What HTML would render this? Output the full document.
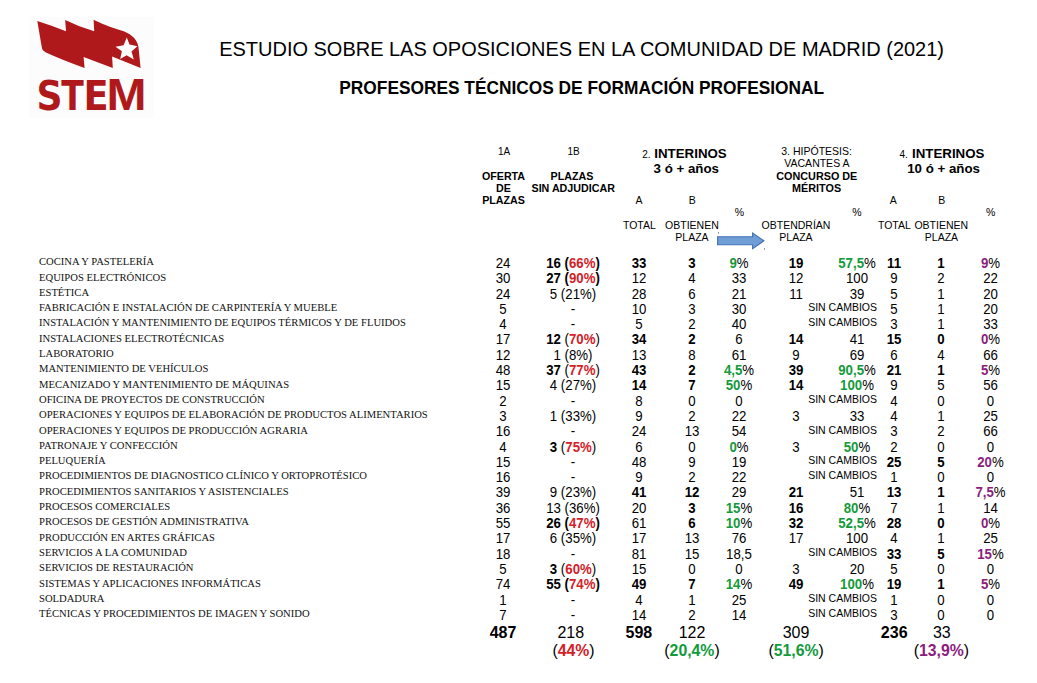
<!DOCTYPE html>
<html><head><meta charset="utf-8"><title>STEM - Profesores Técnicos de FP</title>
<style>
html,body{margin:0;padding:0;background:#fff;}
body{width:1037px;height:683px;overflow:hidden;}
svg{display:block;}
text{font-family:"Liberation Sans",Arial,sans-serif;}
.lab{font-family:"Liberation Serif","Times New Roman",serif;font-size:11px;fill:#111;}
.n{font-size:13.25px;}
.sc{font-size:10.5px;}
.logo text{font-family:"DejaVu Sans Condensed","DejaVu Sans",sans-serif;font-weight:bold;font-size:41.3px;font-stretch:condensed;}
.logo text.m{font-family:"Liberation Sans",sans-serif;font-size:43.75px;font-stretch:normal;}
</style></head>
<body>
<svg width="1037" height="683" viewBox="0 0 1037 683" fill="#000">
<rect width="1037" height="683" fill="#fff"/>

<rect x="29" y="17" width="125" height="101" fill="#fcfcfc"/>
<path fill="#b0191b" d="M37.3 21.1 Q50.5 25.3 66 31.2 L65.2 20 Q78.5 26.7 94.2 31.2 L93.6 19.8
 C100 23 110 27.2 120.5 30.2 C129.5 32.8 136.8 38 138.4 46.5 L140.6 68
 L112.1 56.4 L112.8 68 L83.6 56.9 L84.6 68 Q62 60 45.4 52.3 Q42 50.5 41.9 48 Z"/>
<path fill="#fff" d="M126.8 37.4 L129.5 44.6 L137.4 46.3 L131.5 51.4 L133.8 59.4 L126.6 55.2 L120.2 59.1 L121.9 51.3 L115.5 46.8 L123.6 45.2 Z"/>
<g class="logo" fill="#b0191b">
<text transform="translate(36.41 110) scale(0.973 1)">S</text>
<text transform="translate(61.14 110) scale(0.889 1)">T</text>
<text transform="translate(83.62 110) scale(0.992 1)">E</text>
<text class="m" transform="translate(106.39 110) scale(1.098 1)">M</text>
</g>


<text x="219.2" y="55.9" font-size="20.6" textLength="724.8" lengthAdjust="spacingAndGlyphs">ESTUDIO SOBRE LAS OPOSICIONES EN LA COMUNIDAD DE MADRID (2021)</text>
<text x="339.3" y="93.9" font-size="18" font-weight="bold" textLength="484.8" lengthAdjust="spacingAndGlyphs">PROFESORES TÉCNICOS DE FORMACIÓN PROFESIONAL</text>

<g font-size="10" text-anchor="middle">
<text x="504" y="154.9">1A</text>
<text x="573.5" y="154.9">1B</text>
<g font-weight="bold" font-size="10.7">
<text x="503.5" y="179.8">OFERTA</text>
<text x="503.5" y="191.8">DE</text>
<text x="503.5" y="203.6">PLAZAS</text>
<text x="571.9" y="179.8">PLAZAS</text>
<text x="573.2" y="191.8">SIN ADJUDICAR</text>
</g>
</g>
<text x="642.2" y="157.8" font-size="10">2.<tspan x="654.3" font-size="13.3" font-weight="bold">INTERINOS</tspan></text>
<text x="686.3" y="172.5" font-size="13.3" font-weight="bold" text-anchor="middle">3 ó + años</text>
<text x="899.4" y="157.8" font-size="10">4.<tspan x="912" font-size="13.3" font-weight="bold">INTERINOS</tspan></text>
<text x="943.6" y="172.5" font-size="13.3" font-weight="bold" text-anchor="middle">10 ó + años</text>

<g font-size="10.5" text-anchor="middle">
<text x="816.6" y="154.8">3. HIPÓTESIS:</text>
<text x="816.9" y="166.8">VACANTES A</text>
<text x="816.8" y="179.9" font-weight="bold" font-size="10.8">CONCURSO DE</text>
<text x="816.6" y="192" font-weight="bold" font-size="10.8">MÉRITOS</text>
<text x="638.9" y="203.6">A</text>
<text x="692.2" y="203.6">B</text>
<text x="893.3" y="203.6">A</text>
<text x="941.8" y="203.6">B</text>
<text x="739.3" y="215.6">%</text>
<text x="856.8" y="215.6">%</text>
<text x="990.7" y="215.6">%</text>
<text x="639.4" y="228.9">TOTAL</text>
<text x="691.9" y="228.9">OBTIENEN</text>
<text x="692" y="240.5">PLAZA</text>
<text x="796" y="228.6">OBTENDRÍAN</text>
<text x="796" y="240.5">PLAZA</text>
<text x="894.4" y="228.6">TOTAL</text>
<text x="941.3" y="228.6">OBTIENEN</text>
<text x="941.5" y="240.5">PLAZA</text>
</g>

<path d="M717.6 236.7 H752.6 V233.1 L763.9 240.8 L752.6 248.6 V244.8 H717.6 Z" fill="#6f9ed5" stroke="#4371b6" stroke-width="1.1" stroke-linejoin="miter"/>
<rect x="718" y="232" width="0.9" height="1.6" fill="#5a7fb5"/>
<rect x="764" y="248.2" width="0.9" height="1.6" fill="#5a7fb5"/>
<text class="lab" transform="translate(39 265.20) scale(0.9665 1)">COCINA Y PASTELERÍA</text>
<text class="lab" transform="translate(39 280.50) scale(0.9665 1)">EQUIPOS ELECTRÓNICOS</text>
<text class="lab" transform="translate(39 295.80) scale(0.9665 1)">ESTÉTICA</text>
<text class="lab" transform="translate(39 311.10) scale(0.9665 1)">FABRICACIÓN E INSTALACIÓN DE CARPINTERÍA Y MUEBLE</text>
<text class="lab" transform="translate(39 326.40) scale(0.9665 1)">INSTALACIÓN Y MANTENIMIENTO DE EQUIPOS TÉRMICOS Y DE FLUIDOS</text>
<text class="lab" transform="translate(39 341.70) scale(0.9665 1)">INSTALACIONES ELECTROTÉCNICAS</text>
<text class="lab" transform="translate(39 357.00) scale(0.9665 1)">LABORATORIO</text>
<text class="lab" transform="translate(39 372.30) scale(0.9665 1)">MANTENIMIENTO DE VEHÍCULOS</text>
<text class="lab" transform="translate(39 387.60) scale(0.9665 1)">MECANIZADO Y MANTENIMIENTO DE MÁQUINAS</text>
<text class="lab" transform="translate(39 402.90) scale(0.9665 1)">OFICINA DE PROYECTOS DE CONSTRUCCIÓN</text>
<text class="lab" transform="translate(39 418.20) scale(0.9665 1)">OPERACIONES Y EQUIPOS DE ELABORACIÓN DE PRODUCTOS ALIMENTARIOS</text>
<text class="lab" transform="translate(39 433.50) scale(0.9665 1)">OPERACIONES Y EQUIPOS DE PRODUCCIÓN AGRARIA</text>
<text class="lab" transform="translate(39 448.80) scale(0.9665 1)">PATRONAJE Y CONFECCIÓN</text>
<text class="lab" transform="translate(39 464.10) scale(0.9665 1)">PELUQUERÍA</text>
<text class="lab" transform="translate(39 479.40) scale(0.9665 1)">PROCEDIMIENTOS DE DIAGNOSTICO CLÍNICO Y ORTOPROTÉSICO</text>
<text class="lab" transform="translate(39 494.70) scale(0.9665 1)">PROCEDIMIENTOS SANITARIOS Y ASISTENCIALES</text>
<text class="lab" transform="translate(39 510.00) scale(0.9665 1)">PROCESOS COMERCIALES</text>
<text class="lab" transform="translate(39 525.30) scale(0.9665 1)">PROCESOS DE GESTIÓN ADMINISTRATIVA</text>
<text class="lab" transform="translate(39 540.60) scale(0.9665 1)">PRODUCCIÓN EN ARTES GRÁFICAS</text>
<text class="lab" transform="translate(39 555.90) scale(0.9665 1)">SERVICIOS A LA COMUNIDAD</text>
<text class="lab" transform="translate(39 571.20) scale(0.9665 1)">SERVICIOS DE RESTAURACIÓN</text>
<text class="lab" transform="translate(39 586.50) scale(0.9665 1)">SISTEMAS Y APLICACIONES INFORMÁTICAS</text>
<text class="lab" transform="translate(39 601.80) scale(0.9665 1)">SOLDADURA</text>
<text class="lab" transform="translate(39 617.10) scale(0.9665 1)">TÉCNICAS Y PROCEDIMIENTOS DE IMAGEN Y SONIDO</text>
<text class="n" transform="translate(503 267.90) scale(1 1.065)" text-anchor="middle">24</text>
<text class="n" transform="translate(573 267.90) scale(1 1.065)" text-anchor="middle"><tspan font-weight="bold">16 (</tspan><tspan font-weight="bold" fill="#d42128">66%</tspan><tspan font-weight="bold">)</tspan></text>
<text class="n" transform="translate(639 267.90) scale(1 1.065)" text-anchor="middle" font-weight="bold">33</text>
<text class="n" transform="translate(692 267.90) scale(1 1.065)" text-anchor="middle" font-weight="bold">3</text>
<text class="n" transform="translate(739 267.90) scale(1 1.065)" text-anchor="middle"><tspan font-weight="bold" fill="#129a3b">9</tspan><tspan>%</tspan></text>
<text class="n" transform="translate(796 267.90) scale(1 1.065)" text-anchor="middle" font-weight="bold">19</text>
<text class="n" transform="translate(857 267.90) scale(1 1.065)" text-anchor="middle"><tspan font-weight="bold" fill="#129a3b">57,5</tspan><tspan>%</tspan></text>
<text class="n" transform="translate(894 267.90) scale(1 1.065)" text-anchor="middle" font-weight="bold">11</text>
<text class="n" transform="translate(941 267.90) scale(1 1.065)" text-anchor="middle" font-weight="bold">1</text>
<text class="n" transform="translate(990.5 267.90) scale(1 1.065)" text-anchor="middle"><tspan font-weight="bold" fill="#8c1c7e">9</tspan><tspan>%</tspan></text>
<text class="n" transform="translate(503 283.20) scale(1 1.065)" text-anchor="middle">30</text>
<text class="n" transform="translate(573 283.20) scale(1 1.065)" text-anchor="middle"><tspan font-weight="bold">27 (</tspan><tspan font-weight="bold" fill="#d42128">90%</tspan><tspan font-weight="bold">)</tspan></text>
<text class="n" transform="translate(639 283.20) scale(1 1.065)" text-anchor="middle">12</text>
<text class="n" transform="translate(692 283.20) scale(1 1.065)" text-anchor="middle">4</text>
<text class="n" transform="translate(739 283.20) scale(1 1.065)" text-anchor="middle">33</text>
<text class="n" transform="translate(796 283.20) scale(1 1.065)" text-anchor="middle">12</text>
<text class="n" transform="translate(857 283.20) scale(1 1.065)" text-anchor="middle">100</text>
<text class="n" transform="translate(894 283.20) scale(1 1.065)" text-anchor="middle">9</text>
<text class="n" transform="translate(941 283.20) scale(1 1.065)" text-anchor="middle">2</text>
<text class="n" transform="translate(990.5 283.20) scale(1 1.065)" text-anchor="middle">22</text>
<text class="n" transform="translate(503 298.50) scale(1 1.065)" text-anchor="middle">24</text>
<text class="n" transform="translate(573 298.50) scale(1 1.065)" text-anchor="middle">5 (21%)</text>
<text class="n" transform="translate(639 298.50) scale(1 1.065)" text-anchor="middle">28</text>
<text class="n" transform="translate(692 298.50) scale(1 1.065)" text-anchor="middle">6</text>
<text class="n" transform="translate(739 298.50) scale(1 1.065)" text-anchor="middle">21</text>
<text class="n" transform="translate(796 298.50) scale(1 1.065)" text-anchor="middle">11</text>
<text class="n" transform="translate(857 298.50) scale(1 1.065)" text-anchor="middle">39</text>
<text class="n" transform="translate(894 298.50) scale(1 1.065)" text-anchor="middle">5</text>
<text class="n" transform="translate(941 298.50) scale(1 1.065)" text-anchor="middle">1</text>
<text class="n" transform="translate(990.5 298.50) scale(1 1.065)" text-anchor="middle">20</text>
<text class="n" transform="translate(503 313.80) scale(1 1.065)" text-anchor="middle">5</text>
<text class="n" transform="translate(573 313.80) scale(1 1.065)" text-anchor="middle">-</text>
<text class="n" transform="translate(639 313.80) scale(1 1.065)" text-anchor="middle">10</text>
<text class="n" transform="translate(692 313.80) scale(1 1.065)" text-anchor="middle">3</text>
<text class="n" transform="translate(739 313.80) scale(1 1.065)" text-anchor="middle">30</text>
<text class="sc" x="877" y="311.10" text-anchor="end">SIN CAMBIOS</text>
<text class="n" transform="translate(894 313.80) scale(1 1.065)" text-anchor="middle">5</text>
<text class="n" transform="translate(941 313.80) scale(1 1.065)" text-anchor="middle">1</text>
<text class="n" transform="translate(990.5 313.80) scale(1 1.065)" text-anchor="middle">20</text>
<text class="n" transform="translate(503 329.10) scale(1 1.065)" text-anchor="middle">4</text>
<text class="n" transform="translate(573 329.10) scale(1 1.065)" text-anchor="middle">-</text>
<text class="n" transform="translate(639 329.10) scale(1 1.065)" text-anchor="middle">5</text>
<text class="n" transform="translate(692 329.10) scale(1 1.065)" text-anchor="middle">2</text>
<text class="n" transform="translate(739 329.10) scale(1 1.065)" text-anchor="middle">40</text>
<text class="sc" x="877" y="326.40" text-anchor="end">SIN CAMBIOS</text>
<text class="n" transform="translate(894 329.10) scale(1 1.065)" text-anchor="middle">3</text>
<text class="n" transform="translate(941 329.10) scale(1 1.065)" text-anchor="middle">1</text>
<text class="n" transform="translate(990.5 329.10) scale(1 1.065)" text-anchor="middle">33</text>
<text class="n" transform="translate(503 344.40) scale(1 1.065)" text-anchor="middle">17</text>
<text class="n" transform="translate(573 344.40) scale(1 1.065)" text-anchor="middle"><tspan font-weight="bold">12</tspan><tspan> (</tspan><tspan font-weight="bold" fill="#d42128">70%</tspan><tspan>)</tspan></text>
<text class="n" transform="translate(639 344.40) scale(1 1.065)" text-anchor="middle" font-weight="bold">34</text>
<text class="n" transform="translate(692 344.40) scale(1 1.065)" text-anchor="middle" font-weight="bold">2</text>
<text class="n" transform="translate(739 344.40) scale(1 1.065)" text-anchor="middle">6</text>
<text class="n" transform="translate(796 344.40) scale(1 1.065)" text-anchor="middle" font-weight="bold">14</text>
<text class="n" transform="translate(857 344.40) scale(1 1.065)" text-anchor="middle">41</text>
<text class="n" transform="translate(894 344.40) scale(1 1.065)" text-anchor="middle" font-weight="bold">15</text>
<text class="n" transform="translate(941 344.40) scale(1 1.065)" text-anchor="middle" font-weight="bold">0</text>
<text class="n" transform="translate(990.5 344.40) scale(1 1.065)" text-anchor="middle"><tspan font-weight="bold" fill="#8c1c7e">0</tspan><tspan>%</tspan></text>
<text class="n" transform="translate(503 359.70) scale(1 1.065)" text-anchor="middle">12</text>
<text class="n" transform="translate(573 359.70) scale(1 1.065)" text-anchor="middle">1 (8%)</text>
<text class="n" transform="translate(639 359.70) scale(1 1.065)" text-anchor="middle">13</text>
<text class="n" transform="translate(692 359.70) scale(1 1.065)" text-anchor="middle">8</text>
<text class="n" transform="translate(739 359.70) scale(1 1.065)" text-anchor="middle">61</text>
<text class="n" transform="translate(796 359.70) scale(1 1.065)" text-anchor="middle">9</text>
<text class="n" transform="translate(857 359.70) scale(1 1.065)" text-anchor="middle">69</text>
<text class="n" transform="translate(894 359.70) scale(1 1.065)" text-anchor="middle">6</text>
<text class="n" transform="translate(941 359.70) scale(1 1.065)" text-anchor="middle">4</text>
<text class="n" transform="translate(990.5 359.70) scale(1 1.065)" text-anchor="middle">66</text>
<text class="n" transform="translate(503 375.00) scale(1 1.065)" text-anchor="middle">48</text>
<text class="n" transform="translate(573 375.00) scale(1 1.065)" text-anchor="middle"><tspan font-weight="bold">37</tspan><tspan> (</tspan><tspan font-weight="bold" fill="#d42128">77%</tspan><tspan>)</tspan></text>
<text class="n" transform="translate(639 375.00) scale(1 1.065)" text-anchor="middle" font-weight="bold">43</text>
<text class="n" transform="translate(692 375.00) scale(1 1.065)" text-anchor="middle" font-weight="bold">2</text>
<text class="n" transform="translate(739 375.00) scale(1 1.065)" text-anchor="middle"><tspan font-weight="bold" fill="#129a3b">4,5</tspan><tspan>%</tspan></text>
<text class="n" transform="translate(796 375.00) scale(1 1.065)" text-anchor="middle" font-weight="bold">39</text>
<text class="n" transform="translate(857 375.00) scale(1 1.065)" text-anchor="middle"><tspan font-weight="bold" fill="#129a3b">90,5</tspan><tspan>%</tspan></text>
<text class="n" transform="translate(894 375.00) scale(1 1.065)" text-anchor="middle" font-weight="bold">21</text>
<text class="n" transform="translate(941 375.00) scale(1 1.065)" text-anchor="middle" font-weight="bold">1</text>
<text class="n" transform="translate(990.5 375.00) scale(1 1.065)" text-anchor="middle"><tspan font-weight="bold" fill="#8c1c7e">5</tspan><tspan>%</tspan></text>
<text class="n" transform="translate(503 390.30) scale(1 1.065)" text-anchor="middle">15</text>
<text class="n" transform="translate(573 390.30) scale(1 1.065)" text-anchor="middle">4 (27%)</text>
<text class="n" transform="translate(639 390.30) scale(1 1.065)" text-anchor="middle" font-weight="bold">14</text>
<text class="n" transform="translate(692 390.30) scale(1 1.065)" text-anchor="middle" font-weight="bold">7</text>
<text class="n" transform="translate(739 390.30) scale(1 1.065)" text-anchor="middle"><tspan font-weight="bold" fill="#129a3b">50</tspan><tspan>%</tspan></text>
<text class="n" transform="translate(796 390.30) scale(1 1.065)" text-anchor="middle" font-weight="bold">14</text>
<text class="n" transform="translate(857 390.30) scale(1 1.065)" text-anchor="middle"><tspan font-weight="bold" fill="#129a3b">100</tspan><tspan>%</tspan></text>
<text class="n" transform="translate(894 390.30) scale(1 1.065)" text-anchor="middle">9</text>
<text class="n" transform="translate(941 390.30) scale(1 1.065)" text-anchor="middle">5</text>
<text class="n" transform="translate(990.5 390.30) scale(1 1.065)" text-anchor="middle">56</text>
<text class="n" transform="translate(503 405.60) scale(1 1.065)" text-anchor="middle">2</text>
<text class="n" transform="translate(573 405.60) scale(1 1.065)" text-anchor="middle">-</text>
<text class="n" transform="translate(639 405.60) scale(1 1.065)" text-anchor="middle">8</text>
<text class="n" transform="translate(692 405.60) scale(1 1.065)" text-anchor="middle">0</text>
<text class="n" transform="translate(739 405.60) scale(1 1.065)" text-anchor="middle">0</text>
<text class="sc" x="877" y="402.90" text-anchor="end">SIN CAMBIOS</text>
<text class="n" transform="translate(894 405.60) scale(1 1.065)" text-anchor="middle">4</text>
<text class="n" transform="translate(941 405.60) scale(1 1.065)" text-anchor="middle">0</text>
<text class="n" transform="translate(990.5 405.60) scale(1 1.065)" text-anchor="middle">0</text>
<text class="n" transform="translate(503 420.90) scale(1 1.065)" text-anchor="middle">3</text>
<text class="n" transform="translate(573 420.90) scale(1 1.065)" text-anchor="middle">1 (33%)</text>
<text class="n" transform="translate(639 420.90) scale(1 1.065)" text-anchor="middle">9</text>
<text class="n" transform="translate(692 420.90) scale(1 1.065)" text-anchor="middle">2</text>
<text class="n" transform="translate(739 420.90) scale(1 1.065)" text-anchor="middle">22</text>
<text class="n" transform="translate(796 420.90) scale(1 1.065)" text-anchor="middle">3</text>
<text class="n" transform="translate(857 420.90) scale(1 1.065)" text-anchor="middle">33</text>
<text class="n" transform="translate(894 420.90) scale(1 1.065)" text-anchor="middle">4</text>
<text class="n" transform="translate(941 420.90) scale(1 1.065)" text-anchor="middle">1</text>
<text class="n" transform="translate(990.5 420.90) scale(1 1.065)" text-anchor="middle">25</text>
<text class="n" transform="translate(503 436.20) scale(1 1.065)" text-anchor="middle">16</text>
<text class="n" transform="translate(573 436.20) scale(1 1.065)" text-anchor="middle">-</text>
<text class="n" transform="translate(639 436.20) scale(1 1.065)" text-anchor="middle">24</text>
<text class="n" transform="translate(692 436.20) scale(1 1.065)" text-anchor="middle">13</text>
<text class="n" transform="translate(739 436.20) scale(1 1.065)" text-anchor="middle">54</text>
<text class="sc" x="877" y="433.50" text-anchor="end">SIN CAMBIOS</text>
<text class="n" transform="translate(894 436.20) scale(1 1.065)" text-anchor="middle">3</text>
<text class="n" transform="translate(941 436.20) scale(1 1.065)" text-anchor="middle">2</text>
<text class="n" transform="translate(990.5 436.20) scale(1 1.065)" text-anchor="middle">66</text>
<text class="n" transform="translate(503 451.50) scale(1 1.065)" text-anchor="middle">4</text>
<text class="n" transform="translate(573 451.50) scale(1 1.065)" text-anchor="middle"><tspan font-weight="bold">3</tspan><tspan> (</tspan><tspan font-weight="bold" fill="#d42128">75%</tspan><tspan>)</tspan></text>
<text class="n" transform="translate(639 451.50) scale(1 1.065)" text-anchor="middle">6</text>
<text class="n" transform="translate(692 451.50) scale(1 1.065)" text-anchor="middle">0</text>
<text class="n" transform="translate(739 451.50) scale(1 1.065)" text-anchor="middle"><tspan font-weight="bold" fill="#129a3b">0</tspan><tspan>%</tspan></text>
<text class="n" transform="translate(796 451.50) scale(1 1.065)" text-anchor="middle">3</text>
<text class="n" transform="translate(857 451.50) scale(1 1.065)" text-anchor="middle"><tspan font-weight="bold" fill="#129a3b">50</tspan><tspan>%</tspan></text>
<text class="n" transform="translate(894 451.50) scale(1 1.065)" text-anchor="middle">2</text>
<text class="n" transform="translate(941 451.50) scale(1 1.065)" text-anchor="middle">0</text>
<text class="n" transform="translate(990.5 451.50) scale(1 1.065)" text-anchor="middle">0</text>
<text class="n" transform="translate(503 466.80) scale(1 1.065)" text-anchor="middle">15</text>
<text class="n" transform="translate(573 466.80) scale(1 1.065)" text-anchor="middle">-</text>
<text class="n" transform="translate(639 466.80) scale(1 1.065)" text-anchor="middle">48</text>
<text class="n" transform="translate(692 466.80) scale(1 1.065)" text-anchor="middle">9</text>
<text class="n" transform="translate(739 466.80) scale(1 1.065)" text-anchor="middle">19</text>
<text class="sc" x="877" y="464.10" text-anchor="end">SIN CAMBIOS</text>
<text class="n" transform="translate(894 466.80) scale(1 1.065)" text-anchor="middle" font-weight="bold">25</text>
<text class="n" transform="translate(941 466.80) scale(1 1.065)" text-anchor="middle" font-weight="bold">5</text>
<text class="n" transform="translate(990.5 466.80) scale(1 1.065)" text-anchor="middle"><tspan font-weight="bold" fill="#8c1c7e">20</tspan><tspan>%</tspan></text>
<text class="n" transform="translate(503 482.10) scale(1 1.065)" text-anchor="middle">16</text>
<text class="n" transform="translate(573 482.10) scale(1 1.065)" text-anchor="middle">-</text>
<text class="n" transform="translate(639 482.10) scale(1 1.065)" text-anchor="middle">9</text>
<text class="n" transform="translate(692 482.10) scale(1 1.065)" text-anchor="middle">2</text>
<text class="n" transform="translate(739 482.10) scale(1 1.065)" text-anchor="middle">22</text>
<text class="sc" x="877" y="479.40" text-anchor="end">SIN CAMBIOS</text>
<text class="n" transform="translate(894 482.10) scale(1 1.065)" text-anchor="middle">1</text>
<text class="n" transform="translate(941 482.10) scale(1 1.065)" text-anchor="middle">0</text>
<text class="n" transform="translate(990.5 482.10) scale(1 1.065)" text-anchor="middle">0</text>
<text class="n" transform="translate(503 497.40) scale(1 1.065)" text-anchor="middle">39</text>
<text class="n" transform="translate(573 497.40) scale(1 1.065)" text-anchor="middle">9 (23%)</text>
<text class="n" transform="translate(639 497.40) scale(1 1.065)" text-anchor="middle" font-weight="bold">41</text>
<text class="n" transform="translate(692 497.40) scale(1 1.065)" text-anchor="middle" font-weight="bold">12</text>
<text class="n" transform="translate(739 497.40) scale(1 1.065)" text-anchor="middle">29</text>
<text class="n" transform="translate(796 497.40) scale(1 1.065)" text-anchor="middle" font-weight="bold">21</text>
<text class="n" transform="translate(857 497.40) scale(1 1.065)" text-anchor="middle">51</text>
<text class="n" transform="translate(894 497.40) scale(1 1.065)" text-anchor="middle" font-weight="bold">13</text>
<text class="n" transform="translate(941 497.40) scale(1 1.065)" text-anchor="middle" font-weight="bold">1</text>
<text class="n" transform="translate(990.5 497.40) scale(1 1.065)" text-anchor="middle"><tspan font-weight="bold" fill="#8c1c7e">7,5</tspan><tspan>%</tspan></text>
<text class="n" transform="translate(503 512.70) scale(1 1.065)" text-anchor="middle">36</text>
<text class="n" transform="translate(573 512.70) scale(1 1.065)" text-anchor="middle">13 (36%)</text>
<text class="n" transform="translate(639 512.70) scale(1 1.065)" text-anchor="middle">20</text>
<text class="n" transform="translate(692 512.70) scale(1 1.065)" text-anchor="middle" font-weight="bold">3</text>
<text class="n" transform="translate(739 512.70) scale(1 1.065)" text-anchor="middle"><tspan font-weight="bold" fill="#129a3b">15</tspan><tspan>%</tspan></text>
<text class="n" transform="translate(796 512.70) scale(1 1.065)" text-anchor="middle" font-weight="bold">16</text>
<text class="n" transform="translate(857 512.70) scale(1 1.065)" text-anchor="middle"><tspan font-weight="bold" fill="#129a3b">80</tspan><tspan>%</tspan></text>
<text class="n" transform="translate(894 512.70) scale(1 1.065)" text-anchor="middle">7</text>
<text class="n" transform="translate(941 512.70) scale(1 1.065)" text-anchor="middle">1</text>
<text class="n" transform="translate(990.5 512.70) scale(1 1.065)" text-anchor="middle">14</text>
<text class="n" transform="translate(503 528.00) scale(1 1.065)" text-anchor="middle">55</text>
<text class="n" transform="translate(573 528.00) scale(1 1.065)" text-anchor="middle"><tspan font-weight="bold">26 (</tspan><tspan font-weight="bold" fill="#d42128">47%</tspan><tspan font-weight="bold">)</tspan></text>
<text class="n" transform="translate(639 528.00) scale(1 1.065)" text-anchor="middle">61</text>
<text class="n" transform="translate(692 528.00) scale(1 1.065)" text-anchor="middle" font-weight="bold">6</text>
<text class="n" transform="translate(739 528.00) scale(1 1.065)" text-anchor="middle"><tspan font-weight="bold" fill="#129a3b">10</tspan><tspan>%</tspan></text>
<text class="n" transform="translate(796 528.00) scale(1 1.065)" text-anchor="middle" font-weight="bold">32</text>
<text class="n" transform="translate(857 528.00) scale(1 1.065)" text-anchor="middle"><tspan font-weight="bold" fill="#129a3b">52,5</tspan><tspan>%</tspan></text>
<text class="n" transform="translate(894 528.00) scale(1 1.065)" text-anchor="middle" font-weight="bold">28</text>
<text class="n" transform="translate(941 528.00) scale(1 1.065)" text-anchor="middle" font-weight="bold">0</text>
<text class="n" transform="translate(990.5 528.00) scale(1 1.065)" text-anchor="middle"><tspan font-weight="bold" fill="#8c1c7e">0</tspan><tspan>%</tspan></text>
<text class="n" transform="translate(503 543.30) scale(1 1.065)" text-anchor="middle">17</text>
<text class="n" transform="translate(573 543.30) scale(1 1.065)" text-anchor="middle">6 (35%)</text>
<text class="n" transform="translate(639 543.30) scale(1 1.065)" text-anchor="middle">17</text>
<text class="n" transform="translate(692 543.30) scale(1 1.065)" text-anchor="middle">13</text>
<text class="n" transform="translate(739 543.30) scale(1 1.065)" text-anchor="middle">76</text>
<text class="n" transform="translate(796 543.30) scale(1 1.065)" text-anchor="middle">17</text>
<text class="n" transform="translate(857 543.30) scale(1 1.065)" text-anchor="middle">100</text>
<text class="n" transform="translate(894 543.30) scale(1 1.065)" text-anchor="middle">4</text>
<text class="n" transform="translate(941 543.30) scale(1 1.065)" text-anchor="middle">1</text>
<text class="n" transform="translate(990.5 543.30) scale(1 1.065)" text-anchor="middle">25</text>
<text class="n" transform="translate(503 558.60) scale(1 1.065)" text-anchor="middle">18</text>
<text class="n" transform="translate(573 558.60) scale(1 1.065)" text-anchor="middle">-</text>
<text class="n" transform="translate(639 558.60) scale(1 1.065)" text-anchor="middle">81</text>
<text class="n" transform="translate(692 558.60) scale(1 1.065)" text-anchor="middle">15</text>
<text class="n" transform="translate(739 558.60) scale(1 1.065)" text-anchor="middle">18,5</text>
<text class="sc" x="877" y="555.90" text-anchor="end">SIN CAMBIOS</text>
<text class="n" transform="translate(894 558.60) scale(1 1.065)" text-anchor="middle" font-weight="bold">33</text>
<text class="n" transform="translate(941 558.60) scale(1 1.065)" text-anchor="middle" font-weight="bold">5</text>
<text class="n" transform="translate(990.5 558.60) scale(1 1.065)" text-anchor="middle"><tspan font-weight="bold" fill="#8c1c7e">15</tspan><tspan>%</tspan></text>
<text class="n" transform="translate(503 573.90) scale(1 1.065)" text-anchor="middle">5</text>
<text class="n" transform="translate(573 573.90) scale(1 1.065)" text-anchor="middle"><tspan font-weight="bold">3</tspan><tspan> (</tspan><tspan font-weight="bold" fill="#d42128">60%</tspan><tspan>)</tspan></text>
<text class="n" transform="translate(639 573.90) scale(1 1.065)" text-anchor="middle">15</text>
<text class="n" transform="translate(692 573.90) scale(1 1.065)" text-anchor="middle">0</text>
<text class="n" transform="translate(739 573.90) scale(1 1.065)" text-anchor="middle">0</text>
<text class="n" transform="translate(796 573.90) scale(1 1.065)" text-anchor="middle">3</text>
<text class="n" transform="translate(857 573.90) scale(1 1.065)" text-anchor="middle">20</text>
<text class="n" transform="translate(894 573.90) scale(1 1.065)" text-anchor="middle">5</text>
<text class="n" transform="translate(941 573.90) scale(1 1.065)" text-anchor="middle">0</text>
<text class="n" transform="translate(990.5 573.90) scale(1 1.065)" text-anchor="middle">0</text>
<text class="n" transform="translate(503 589.20) scale(1 1.065)" text-anchor="middle">74</text>
<text class="n" transform="translate(573 589.20) scale(1 1.065)" text-anchor="middle"><tspan font-weight="bold">55 (</tspan><tspan font-weight="bold" fill="#d42128">74%</tspan><tspan font-weight="bold">)</tspan></text>
<text class="n" transform="translate(639 589.20) scale(1 1.065)" text-anchor="middle" font-weight="bold">49</text>
<text class="n" transform="translate(692 589.20) scale(1 1.065)" text-anchor="middle" font-weight="bold">7</text>
<text class="n" transform="translate(739 589.20) scale(1 1.065)" text-anchor="middle"><tspan font-weight="bold" fill="#129a3b">14</tspan><tspan>%</tspan></text>
<text class="n" transform="translate(796 589.20) scale(1 1.065)" text-anchor="middle" font-weight="bold">49</text>
<text class="n" transform="translate(857 589.20) scale(1 1.065)" text-anchor="middle"><tspan font-weight="bold" fill="#129a3b">100</tspan><tspan>%</tspan></text>
<text class="n" transform="translate(894 589.20) scale(1 1.065)" text-anchor="middle" font-weight="bold">19</text>
<text class="n" transform="translate(941 589.20) scale(1 1.065)" text-anchor="middle" font-weight="bold">1</text>
<text class="n" transform="translate(990.5 589.20) scale(1 1.065)" text-anchor="middle"><tspan font-weight="bold" fill="#8c1c7e">5</tspan><tspan>%</tspan></text>
<text class="n" transform="translate(503 604.50) scale(1 1.065)" text-anchor="middle">1</text>
<text class="n" transform="translate(573 604.50) scale(1 1.065)" text-anchor="middle">-</text>
<text class="n" transform="translate(639 604.50) scale(1 1.065)" text-anchor="middle">4</text>
<text class="n" transform="translate(692 604.50) scale(1 1.065)" text-anchor="middle">1</text>
<text class="n" transform="translate(739 604.50) scale(1 1.065)" text-anchor="middle">25</text>
<text class="sc" x="877" y="601.80" text-anchor="end">SIN CAMBIOS</text>
<text class="n" transform="translate(894 604.50) scale(1 1.065)" text-anchor="middle">1</text>
<text class="n" transform="translate(941 604.50) scale(1 1.065)" text-anchor="middle">0</text>
<text class="n" transform="translate(990.5 604.50) scale(1 1.065)" text-anchor="middle">0</text>
<text class="n" transform="translate(503 619.80) scale(1 1.065)" text-anchor="middle">7</text>
<text class="n" transform="translate(573 619.80) scale(1 1.065)" text-anchor="middle">-</text>
<text class="n" transform="translate(639 619.80) scale(1 1.065)" text-anchor="middle">14</text>
<text class="n" transform="translate(692 619.80) scale(1 1.065)" text-anchor="middle">2</text>
<text class="n" transform="translate(739 619.80) scale(1 1.065)" text-anchor="middle">14</text>
<text class="sc" x="877" y="617.10" text-anchor="end">SIN CAMBIOS</text>
<text class="n" transform="translate(894 619.80) scale(1 1.065)" text-anchor="middle">3</text>
<text class="n" transform="translate(941 619.80) scale(1 1.065)" text-anchor="middle">0</text>
<text class="n" transform="translate(990.5 619.80) scale(1 1.065)" text-anchor="middle">0</text>

<g font-size="16" text-anchor="middle">
<text x="503" y="638" font-weight="bold">487</text>
<text x="570.8" y="638">218</text>
<text x="638.9" y="638" font-weight="bold">598</text>
<text x="692" y="638">122</text>
<text x="796" y="638">309</text>
<text x="894.2" y="638" font-weight="bold">236</text>
<text x="941.8" y="638">33</text>
</g>
<g font-size="15.8" text-anchor="middle">
<text x="573.5" y="656">(<tspan font-weight="bold" fill="#d42128">44%</tspan>)</text>
<text x="692" y="656">(<tspan font-weight="bold" fill="#129a3b">20,4%</tspan>)</text>
<text x="796.2" y="656.3">(<tspan font-weight="bold" fill="#129a3b">51,6%</tspan>)</text>
<text x="941.4" y="656.3">(<tspan font-weight="bold" fill="#8c1c7e">13,9%</tspan>)</text>
</g>

</svg>
</body></html>
